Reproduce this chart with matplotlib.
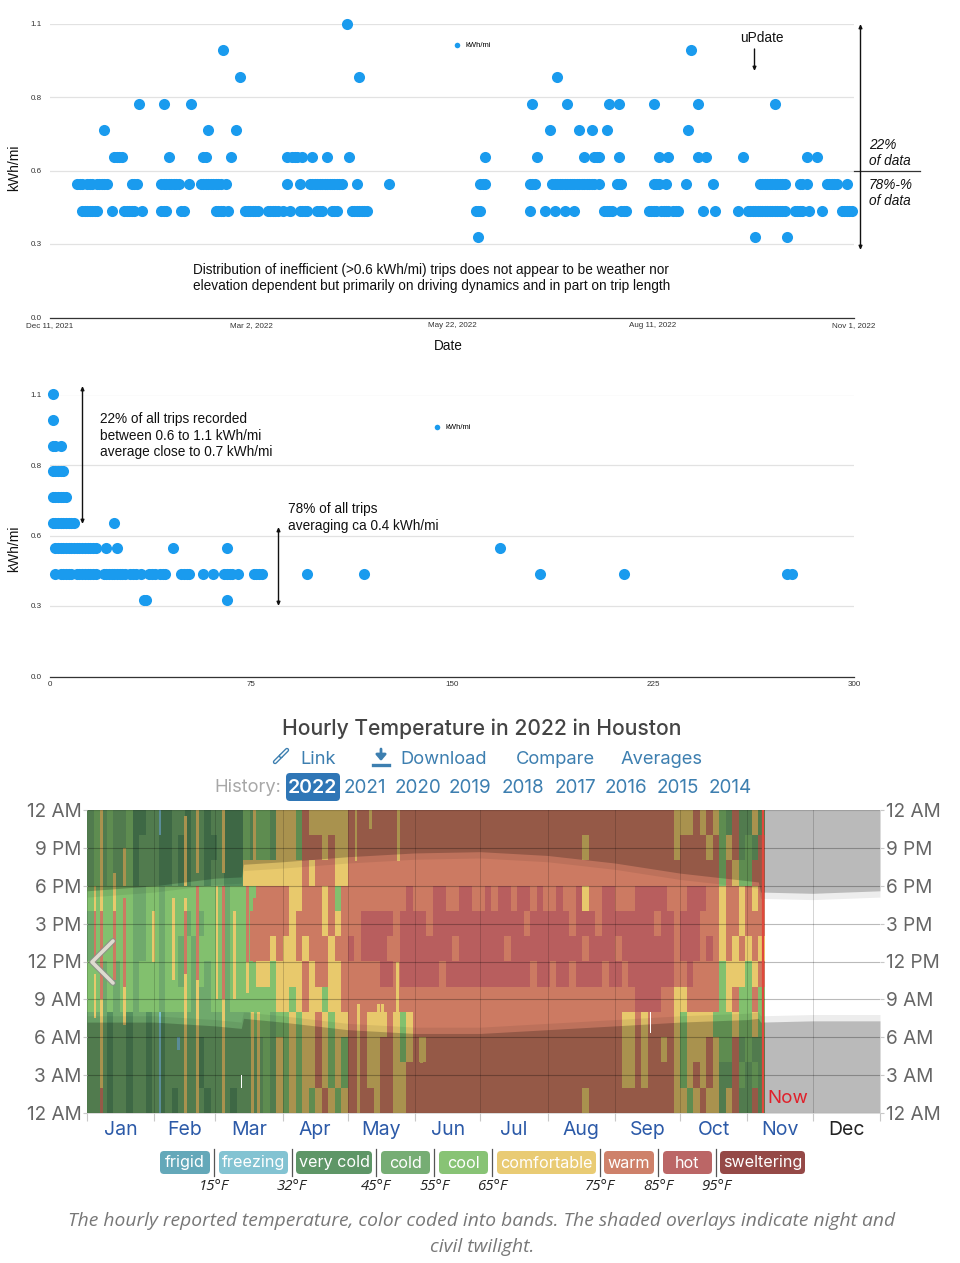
import numpy as np
import matplotlib
matplotlib.use("Agg")
import matplotlib.pyplot as plt
from matplotlib.colors import ListedColormap
from matplotlib.patches import FancyBboxPatch

plt.rcParams['font.family'] = 'Liberation Sans'

DOT_BLUE = "#1a9bee"
NOTE_SIZE = 9.85
W, H = 960, 1263

# trips by date: days since Dec 11 2021, grouped by kWh/mi level
date_levels = [1.1, 1.0, 0.9, 0.8, 0.7, 0.6, 0.5, 0.4, 0.3]
date_days = [
    [120],
    [70, 259],
    [77, 125, 205],
    [36, 46, 57, 195, 209, 226, 230, 244, 262, 293],
    [22, 64, 75, 202, 214, 219, 225, 258],
    [26, 27, 28, 29, 48, 62, 63, 73, 96, 98, 99, 100, 102, 106, 112, 121, 176, 197, 216, 220, 221, 222,
     230, 246, 250, 262, 265, 280, 306, 310],
    [11, 12, 13, 15, 16, 17, 19, 20, 21, 22, 23, 33, 34, 35, 45, 46, 47, 48, 49, 50, 51, 52, 56,
     61, 62, 63, 64, 65, 66, 67, 68, 69, 71, 96, 101, 105, 106, 107, 108, 109, 110, 111, 112, 113,
     114, 115, 116, 117, 118, 124, 137, 174, 175, 176, 194, 195, 196, 203, 204, 205, 206, 207, 208,
     209, 210, 211, 212, 213, 214, 215, 216, 217, 218, 219, 220, 222, 229, 230, 231, 244, 245, 246,
     249, 257, 268, 287, 288, 289, 290, 291, 292, 293, 294, 295, 296, 297, 303, 304, 306,
     314, 315, 316, 317, 318, 322],
    [13, 14, 15, 16, 17, 18, 19, 25, 30, 31, 32, 33, 34, 37, 45, 46, 47, 53, 54, 67, 68, 69, 70, 72,
     79, 80, 81, 82, 83, 84, 88, 89, 90, 91, 92, 94, 97, 101, 102, 103, 104, 108, 109, 110, 114, 115,
     116, 122, 123, 124, 125, 126, 127, 128, 172, 173, 174, 194, 200, 204, 208, 212, 224, 225, 226, 227,
     231, 232, 233, 242, 243, 244, 245, 247, 248, 249, 250, 252, 253, 254, 264, 269, 278, 282, 283, 284,
     285, 286, 287, 288, 289, 290, 291, 292, 293, 294, 295, 296, 297, 301, 302, 303, 304, 307,
     312, 320, 321, 322, 323, 324],
    [173, 285, 298],
]
date_ticks = [0, 81.25, 162.5, 243.75, 325]
date_labels = ["Dec 11, 2021", "Mar 2, 2022", "May 22, 2022", "Aug 11, 2022", "Nov 1, 2022"]

# trips by length in miles, same levels
dist_miles = [
    [1],
    [1],
    [1, 2, 4],
    [1, 2, 3, 4, 5],
    [1, 2, 3, 4, 5, 6],
    [1, 2, 3, 4, 5, 6, 7, 8, 9, 24],
    [2, 3, 4, 5, 6, 7, 8, 9, 10, 11, 12, 13, 14, 15, 16, 17, 21, 25, 46, 66, 168],
    [2, 4, 5, 6, 7, 8, 10, 11, 12, 13, 14, 15, 16, 17, 20, 21, 22, 23, 24, 25, 26, 27, 28, 30, 31, 32, 34,
     37, 38, 39, 41, 42, 43, 49, 50, 51, 52, 57, 61, 65, 66, 67, 68, 70, 76, 77, 78, 79,
     96, 117, 183, 214, 275, 277],
    [35, 36, 66],
]
dist_ticks = [0, 75, 150, 225, 300]

y_ticks = [0, 0.275, 0.55, 0.825, 1.1]
y_labels = ["0.0", "0.3", "0.6", "0.8", "1.1"]

# hourly bands, one letter per 3 days, rows run from 10 PM-midnight down to midnight-2 AM
band_rows = [
    "clclcclvvc cvvccvccvc cvvvlcllcm mmlwmmmmmm wwwwwwwwww wwwwwwwwww wwwwwwwwww wwwwwwwwww wwwwwwwwww mmmwmwmlcwccmc",
    "clclcclvcc cvvcvvccvv cvvvlcllcm mmlwwwmwmm wwwwwwwwww wwwwwwwwww wwwwwwwwww wwwwwwmwww wwwwwwwwww mwwwwmwlmwclcw",
    "clclcclvcc cvvcvvccvc cvvvmmmmmm mmmwmwwwmm wwwwwwwwww wwwwwwwwww wwwwwwwwww wwwwwwwwww wwwwwwwwww wwwwwwwlwmllww",
    "lllllllccl lcllllllll lcllllwwww wmmwwwmwlw wwwwwwwwwh wwwhhwwhhw whwhhwhhwh wwhwwhmwwh hwwwhhhhhw wwhhhwwmwwmwmw",
    "cllllllccl lclllclcll lclllwwwww wmwwwwmwmw wwhhhhhwhh hhwhhhhhhh hhhhhhhwhh hhhhwhhhwh hhhhhhhwhh whhhwwwmwwmwww",
    "cllllllccl lcllclclll lclllwwwmw mmwmwwwmww hwhhhhwwhh hhhhhhwhhh hhhhwhhhhh hhhhhhwhhh hwhhhhhhhh whhhwhwmwmwmwm",
    "llclcllcll lcllclclcl lcllllmmlm mmmwmwwmmw wwwwwhhwhh hhhhwhhhhh hhhhhhhhwh hwhhwhhhhw hhwhhhhhhh wwhwwwwlmmmlmw",
    "llclcllcll lcllllcccl lclllllllm mlmwmmlmmw wwwwwwwwww wwwwwwwwww wwwwwwwwww wwwwwwwwww wwwwhhhhww mmwwwwwlmwllwl",
    "cccvccvccv cvcccccccc ccccclllcl lmlmmwmlmm wwwmmmwmlm wwwwwwwwww wwwwwwwwww wwwwwwwwww wwmmwmwwww mlmmmmlllmllml",
    "cccvccvccv cvcccccvcc ccccccclcm lmlmmwmlml wwwmmwwmlm wmwwwwwwww wwwwwwwwww wwwwwwwwww wwmmwmwwmw mlmmmwmllwclcc",
    "cccvccvccv cvcccccvcc ccccccclcm lmlmmwmlml wwwmmwwmmw wwwwwwwwww wwwwwwwwww wwwwwwwwww wwmmwmwwww mlmwmwmccwlclc",
    "cccvccvccv cvcvccccvc ccvcccclcm lmlmlmwmlm wwwwmwwmmw wwwwwwwwww wwwwwwwwww wwwwwwmwww wwwwwwwwww mmlmwmmcmwccwc",
]
band_names = ["frigid", "freezing", "very cold", "cold", "cool", "comfortable", "warm", "hot", "sweltering"]
band_codes = ["f", "z", "v", "c", "l", "m", "w", "h", "s"]
band_colors = ["#5ca3b6", "#7cc0d0", "#55905f", "#6fa96c", "#82c06e", "#e8c96c", "#cc7a62", "#b85e5e", "#8f3f3d"]
band_limits = ["15°F", "32°F", "45°F", "55°F", "65°F", "75°F", "85°F", "95°F"]

# short runs narrower than one column: day, first hour, last hour, band
stripe_days = [3.7, 3.7, 3.7, 6.8, 6.8, 6.8, 6.8, 12.6, 12.6, 17.2, 17.2, 17.2, 30.6, 33.6, 33.6, 40, 42,
               45.5, 45.5, 45.5, 45.5, 51, 51, 51, 59.8, 63, 63, 63, 68, 74, 74, 76, 77, 77, 79,
               123.8, 130.4, 143.5, 125, 143, 134, 136, 154]
stripe_from = [16, 12, 7.5, 16, 9, 2, 0, 16, 10.5, 18, 10, 7, 12, 0, 22, 10.5, 5,
               18, 16, 11, 0, 19, 10.5, 0, 9, 19, 9, 0, 9, 12, 9.5, 0, 20, 12, 0,
               20, 22.5, 20, 0, 7, 7.5, 7.5, 4]
stripe_to = [18, 16, 11, 24, 16, 9, 2, 19, 16, 21, 17, 10, 16, 8, 24, 17, 6,
             23.5, 17, 16, 11, 24, 18, 10.5, 18, 24, 18, 9, 16, 18, 12, 8, 24, 17, 8,
             24, 24, 24, 8.6, 12, 8.6, 8.6, 6]
stripe_bands = ["m", "w", "m", "m", "w", "m", "w", "m", "w", "m", "w", "m", "m", "z", "z", "m", "z",
                "m", "m", "w", "m", "m", "w", "m", "m", "m", "w", "m", "m", "w", "m", "m", "m", "w", "m",
                "m", "m", "m", "m", "m", "m", "m", "m"]
# hours with no reading
gap_days = [71, 259.4]
gap_from = [2, 6.3]
gap_to = [3, 8]

# sunset and sunrise hour through the year, day of year first
sun_days = [0, 31, 59, 71, 72, 90, 120, 151, 181, 212, 243, 273, 304, 309, 310, 334, 365]
sunset_hours = [17.6, 18.0, 18.6, 18.7, 19.7, 19.9, 20.3, 20.6, 20.7, 20.4, 19.8, 19.0, 18.4, 18.3, 17.5, 17.4, 17.6]
sunrise_hours = [7.2, 7.2, 6.9, 6.7, 7.5, 7.2, 6.6, 6.3, 6.3, 6.6, 6.9, 7.2, 7.4, 7.5, 7.2, 7.3, 7.3]

month_starts = [0, 31, 59, 90, 120, 151, 181, 212, 243, 273, 304, 334, 365]
month_names = ["Jan", "Feb", "Mar", "Apr", "May", "Jun", "Jul", "Aug", "Sep", "Oct", "Nov", "Dec"]
hour_ticks = [0, 3, 6, 9, 12, 15, 18, 21, 24]
hour_labels = ["12 AM", "3 AM", "6 AM", "9 AM", "12 PM", "3 PM", "6 PM", "9 PM", "12 AM"]
history_years = ["2021", "2020", "2019", "2018", "2017", "2016", "2015", "2014"]
year_centers = [365, 418, 470, 523, 575, 626, 678, 730]
pill_edges = [(160, 210), (219, 288), (296, 372), (381, 430), (439, 488), (497, 596), (604, 654), (663, 712), (720, 805)]
limit_x = [214, 292, 376, 434, 492, 600, 658, 716]


def axes_at(left, top, right, bottom):
    # axes from pixel edges, y counted from the top of the figure
    a = fig.add_axes([left / W, 1 - bottom / H, (right - left) / W, (bottom - top) / H])
    a.patch.set_alpha(0)
    return a


def dot_chart(a, xs, xmax, ticks, labels, legend_anchor):
    first = True
    for level, days in zip(date_levels, xs):
        a.scatter(days, [level] * len(days), s=64, color=DOT_BLUE, linewidths=0, clip_on=False,
                  zorder=3, label="kWh/mi" if first else None)
        first = False
    a.set_xlim(0, xmax)
    a.set_ylim(0, 1.1)
    a.set_yticks(y_ticks)
    a.set_yticklabels(y_labels)
    a.set_xticks(ticks)
    a.set_xticklabels(labels)
    a.tick_params(length=0, labelsize=5.8, labelcolor="#333333", pad=3.5)
    a.tick_params(axis="y", pad=6)
    a.grid(axis="y", color="#e2e2e2", lw=0.9)
    a.set_axisbelow(True)
    for side in ["top", "right", "left"]:
        a.spines[side].set_visible(False)
    a.spines["bottom"].set_color("#333333")
    a.spines["bottom"].set_linewidth(0.9)
    a.legend(loc="center left", bbox_to_anchor=legend_anchor, frameon=False, fontsize=5.5,
             markerscale=0.5, handletextpad=0.1, borderpad=0, borderaxespad=0)


def double_arrow(x, y0, y1, style="<|-|>"):
    over.annotate("", xy=(x, y0), xytext=(x, y1),
                  arrowprops=dict(arrowstyle=style + ",head_length=0.22,head_width=0.1", color="#111111", lw=1,
                                  shrinkA=0, shrinkB=0))


fig = plt.figure(figsize=(W / 100, H / 100), dpi=100, facecolor="white")

# scatter of efficiency over the year
ax1 = axes_at(50, 23.5, 854, 317.5)
dot_chart(ax1, date_days, 325, date_ticks, date_labels, (0.497, 0.927))

# scatter of efficiency against trip length
ax2 = axes_at(50, 394.5, 854, 676.5)
dot_chart(ax2, dist_miles, 300, dist_ticks, [str(t) for t in dist_ticks], (0.472, 0.883))

# hourly temperature bands
ax3 = axes_at(87, 810, 880, 1113)
cells = np.array([[band_codes.index(ch) for ch in row.replace(" ", "")] for row in band_rows])
ax3.imshow(cells, cmap=ListedColormap(band_colors), vmin=0, vmax=8, extent=(0, 3 * cells.shape[1], 0, 24),
           aspect="auto", interpolation="nearest", zorder=1)
ax3.bar(stripe_days, np.array(stripe_to) - np.array(stripe_from), bottom=stripe_from, width=1.3, linewidth=0,
        color=[band_colors[band_codes.index(b)] for b in stripe_bands], zorder=1.5)
ax3.bar(gap_days, np.array(gap_to) - np.array(gap_from), bottom=gap_from, width=0.6, linewidth=0, color="white", zorder=3)
# civil twilight is the wider, paler layer and night sits on it
sunset = np.array(sunset_hours)
sunrise = np.array(sunrise_hours)
ax3.fill_between(sun_days, sunset - 0.5, 24, color="black", alpha=0.07, lw=0, zorder=2)
ax3.fill_between(sun_days, sunset, 24, color="black", alpha=0.21, lw=0, zorder=2)
ax3.fill_between(sun_days, 0, sunrise + 0.5, color="black", alpha=0.07, lw=0, zorder=2)
ax3.fill_between(sun_days, 0, sunrise, color="black", alpha=0.21, lw=0, zorder=2)
ax3.axvline(3 * cells.shape[1] - 1, color="#e0483c", lw=1.6, zorder=4)
ax3.text(313, 0.5, "Now", color="#e0202a", fontsize=13.5, family="Inter", va="bottom", ha="left", zorder=5)
ax3.set_xlim(0, 365)
ax3.set_ylim(0, 24)
ax3.set_yticks(hour_ticks)
ax3.set_yticklabels(hour_labels)
ax3.set_xticks(month_starts)
ax3.set_xticklabels([])
ax3.set_xticks([(a + b) / 2 for a, b in zip(month_starts, month_starts[1:])], minor=True)
ax3.set_xticklabels(month_names, minor=True)
ax3.tick_params(axis="y", which="major", left=True, right=True, labelleft=True, labelright=True, length=3,
                color="#c8c8c8", labelsize=13.7, labelcolor="#666666", pad=1)
ax3.tick_params(axis="x", which="major", length=6, color="#c8c8c8")
ax3.tick_params(axis="x", which="minor", length=0, labelsize=14, labelcolor="#2c5aa8", pad=6)
for lab in ax3.get_xticklabels(minor=True) + ax3.get_yticklabels():
    lab.set_family("Inter")
ax3.get_xticklabels(minor=True)[-1].set_color("#222222")
ax3.grid(axis="y", which="major", color="black", alpha=0.27, lw=0.8, zorder=3)
ax3.grid(axis="x", which="major", color="black", alpha=0.17, lw=0.7, zorder=3)
ax3.set_axisbelow(False)
for spine in ax3.spines.values():
    spine.set_visible(False)

# page-wide layer for the notes, header and legend, in pixel coordinates
over = fig.add_axes([0, 0, 1, 1], zorder=10)
over.set_xlim(0, W)
over.set_ylim(H, 0)
over.axis("off")
over.patch.set_alpha(0)

over.text(14, 168, "kWh/mi", rotation=90, ha="center", va="center", fontsize=10, color="#111111")
over.text(14, 549, "kWh/mi", rotation=90, ha="center", va="center", fontsize=10, color="#111111")
over.text(448, 345.5, "Date", ha="center", va="center", fontsize=9.8, color="#111111")

over.text(193, 270, "Distribution of inefficient (>0.6 kWh/mi) trips does not appear to be weather nor",
          va="center", fontsize=NOTE_SIZE, color="#111111")
over.text(193, 286, "elevation dependent but primarily on driving dynamics and in part on trip length",
          va="center", fontsize=NOTE_SIZE, color="#111111")
over.text(740, 38, "uPdate", va="center", fontsize=NOTE_SIZE, color="#111111")
double_arrow(754.5, 71, 49, "-|>")
double_arrow(860.5, 24, 250)
over.plot([854, 920], [170.5, 170.5], color="#333333", lw=0.9)
for y, txt in zip([145, 161, 185, 201], ["22%", "of data", "78%-%", "of data"]):
    over.text(869, y, txt, style="italic", va="center", fontsize=NOTE_SIZE, color="#111111")

double_arrow(82.5, 386, 524)
double_arrow(278.5, 527, 606)
for y, txt in zip([419, 436, 452], ["22% of all trips recorded", "between 0.6 to 1.1 kWh/mi", "average close to 0.7 kWh/mi"]):
    over.text(100.5, y, txt, va="center", fontsize=NOTE_SIZE, color="#111111")
for y, txt in zip([509, 526], ["78% of all trips", "averaging ca 0.4 kWh/mi"]):
    over.text(288, y, txt, va="center", fontsize=NOTE_SIZE, color="#111111")

# header above the temperature chart
ui = "Inter"
over.text(482, 729, "Hourly Temperature in 2022 in Houston", ha="center", va="center", fontsize=15.2, family=ui,
          fontweight="medium", color="#444444")
link_blue = "#3d7fb0"
over.text(300, 760, "Link", va="center", fontsize=13.2, family=ui, color=link_blue)
over.text(400, 760, "Download", va="center", fontsize=13.2, family=ui, color=link_blue)
over.text(516, 760, "Compare", va="center", fontsize=13.2, family=ui, color=link_blue)
over.text(621, 760, "Averages", va="center", fontsize=13.2, family=ui, color=link_blue)
# chain and download glyphs
over.plot([275, 281], [762, 756], color=link_blue, lw=3.2, solid_capstyle="round")
over.plot([275, 281], [762, 756], color="white", lw=1.2, solid_capstyle="round")
over.plot([281, 287], [756, 750], color=link_blue, lw=3.2, solid_capstyle="round")
over.plot([281, 287], [756, 750], color="white", lw=1.2, solid_capstyle="round")
over.annotate("", xy=(381, 761), xytext=(381, 749),
              arrowprops=dict(arrowstyle="-|>,head_length=0.35,head_width=0.3", color=link_blue, lw=2, shrinkA=0, shrinkB=0))
over.plot([373, 389], [765, 765], color=link_blue, lw=2.4)

over.text(214, 788, "History:", va="center", fontsize=13.2, family=ui, color="#a8a8a8")
over.add_patch(FancyBboxPatch((288, 775), 50, 24, boxstyle="round,pad=2,rounding_size=4", fc="#2f76b6", ec="none"))
over.text(312.5, 788, "2022", ha="center", va="center", fontsize=14, family=ui, color="white", fontweight="semibold")
for cx, yr in zip(year_centers, history_years):
    over.text(cx, 788, yr, ha="center", va="center", fontsize=13.6, family=ui, color=link_blue)

# back chevron resting on the chart
over.plot([113, 92, 113], [941, 962, 983], color="#8c8c8c", lw=4.2, alpha=0.8, solid_capstyle="round")
over.plot([113, 92, 113], [941, 962, 983], color="#dedbd0", lw=2.6, solid_capstyle="round")

# band legend
for (x0, x1), name, col in zip(pill_edges, band_names, band_colors):
    over.add_patch(FancyBboxPatch((x0 + 3, 1154), x1 - x0 - 6, 17, boxstyle="round,pad=3,rounding_size=4", fc=col, ec="none", alpha=0.95))
    over.text((x0 + x1) / 2, 1163, name, ha="center", va="center", fontsize=11.6, family=ui, color="white")
for x, lim in zip(limit_x, band_limits):
    over.plot([x, x], [1149, 1176], color="#555555", lw=0.9)
    over.text(x, 1186.5, lim, ha="center", va="center", fontsize=10.8, style="italic", family="Open Sans", color="#222222")

over.text(482, 1221, "The hourly reported temperature, color coded into bands. The shaded overlays indicate night and",
          ha="center", va="center", fontsize=13.9, style="italic", family="Open Sans", color="#777777")
over.text(482, 1247, "civil twilight.", ha="center", va="center", fontsize=13.9, style="italic", family="Open Sans", color="#777777")

fig.savefig("out.png", dpi=100)
